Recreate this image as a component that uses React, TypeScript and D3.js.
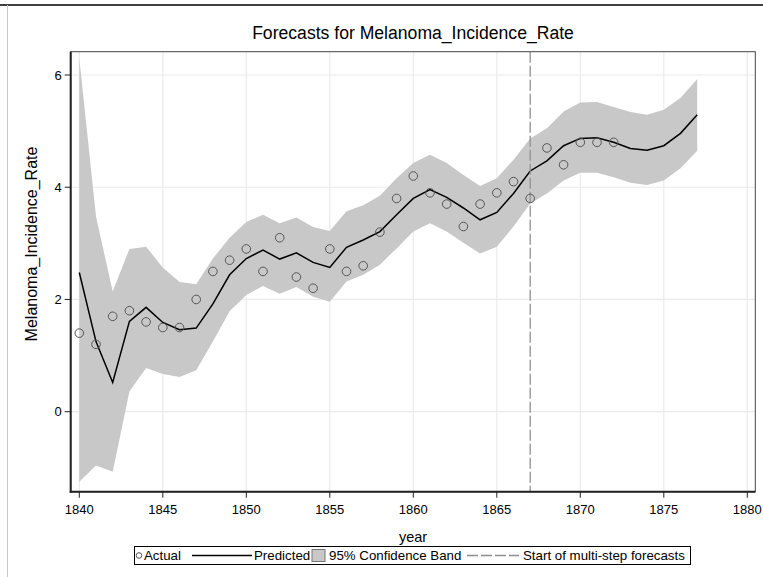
import React, { useEffect } from "react";
import * as d3 from "d3";

// Observed series and one-step / multi-step forecasts with 95% limits
const actualYears = d3.range(1840, 1873);
const actual = [
  1.4, 1.2, 1.7, 1.8, 1.6, 1.5, 1.5, 2.0, 2.5, 2.7, 2.9, 2.5, 3.1, 2.4, 2.2, 2.9, 2.5,
  2.6, 3.2, 3.8, 4.2, 3.9, 3.7, 3.3, 3.7, 3.9, 4.1, 3.8, 4.7, 4.4, 4.8, 4.8, 4.8,
];

const forecastYears = d3.range(1840, 1878);
const predicted = [
  2.48, 1.25, 0.52, 1.61, 1.86, 1.59, 1.46, 1.49, 1.92, 2.44, 2.73, 2.88, 2.72, 2.83,
  2.66, 2.57, 2.93, 3.06, 3.21, 3.51, 3.8, 3.96, 3.82, 3.63, 3.42, 3.55, 3.89, 4.29,
  4.47, 4.74, 4.87, 4.88, 4.8, 4.69, 4.66, 4.74, 4.96, 5.29,
];
const upper = [
  6.3, 3.48, 2.14, 2.9, 2.94, 2.57, 2.31, 2.27, 2.73, 3.1, 3.38, 3.51, 3.36, 3.46,
  3.29, 3.22, 3.57, 3.68, 3.85, 4.16, 4.43, 4.58, 4.43, 4.22, 4.02, 4.16, 4.49, 4.87,
  5.05, 5.35, 5.51, 5.52, 5.43, 5.34, 5.29, 5.38, 5.59, 5.93,
];
const lower = [
  -1.25, -0.96, -1.07, 0.36, 0.78, 0.67, 0.62, 0.74, 1.25, 1.79, 2.08, 2.24, 2.1,
  2.22, 2.05, 1.96, 2.32, 2.44, 2.62, 2.91, 3.21, 3.36, 3.21, 3.01, 2.82, 2.94, 3.3,
  3.71, 3.89, 4.12, 4.26, 4.26, 4.18, 4.08, 4.04, 4.12, 4.34, 4.65,
];

const forecastStart = 1867;
const xTicks = [1840, 1845, 1850, 1855, 1860, 1865, 1870, 1875, 1880];
const yTicks = [0, 2, 4, 6];

const W = 763;
const H = 577;
const FONT = "'Liberation Sans', Arial, sans-serif";

const plot = { left: 70.7, right: 755.3, top: 51.7, bottom: 491.7 };

export default function App() {
  useEffect(() => {
    document.body.style.margin = "0";
  }, []);

  const x = d3.scaleLinear().domain([1840, 1880]).range([79.3, 747.3]);
  const y = d3.scaleLinear().domain([0, 6]).range([411.7, 75.0]);

  const band = d3
    .area<number>()
    .x((_, i) => x(forecastYears[i]))
    .y0((_, i) => y(lower[i]))
    .y1((_, i) => y(upper[i]))(forecastYears);

  const predLine = d3
    .line<number>()
    .x((_, i) => x(forecastYears[i]))
    .y((v) => y(v))(predicted);

  const cx = (plot.left + plot.right) / 2;

  return (
    <svg width={W} height={H} style={{ display: "block" }} fontFamily={FONT}>
      <rect x={0} y={0} width={W} height={H} fill="#fff" />
      {/* outer frame */}
      <line x1={0} x2={W} y1={5} y2={5} stroke="#000" strokeWidth={1.5} />
      <line x1={7.5} x2={7.5} y1={5} y2={H} stroke="#c8c8c8" strokeWidth={1} />

      <text x={cx} y={39} textAnchor="middle" fontSize={17.6} fill="#000">
        Forecasts for Melanoma_Incidence_Rate
      </text>

      <defs>
        <clipPath id="plotClip">
          <rect
            x={plot.left}
            y={plot.top}
            width={plot.right - plot.left}
            height={plot.bottom - plot.top}
          />
        </clipPath>
      </defs>

      {/* grid */}
      {xTicks.map((t) => (
        <line
          key={"gx" + t}
          x1={x(t)}
          x2={x(t)}
          y1={plot.top}
          y2={plot.bottom}
          stroke="#ebebeb"
          strokeWidth={1.2}
        />
      ))}
      {yTicks.map((t) => (
        <line
          key={"gy" + t}
          x1={plot.left}
          x2={plot.right}
          y1={y(t)}
          y2={y(t)}
          stroke="#ebebeb"
          strokeWidth={1.2}
        />
      ))}

      <g clipPath="url(#plotClip)">
        <path d={band ?? ""} fill="#c8c8c8" stroke="none" />
        <path d={predLine ?? ""} fill="none" stroke="#000" strokeWidth={1.5} />
        <line
          x1={x(forecastStart)}
          x2={x(forecastStart)}
          y1={plot.top}
          y2={plot.bottom}
          stroke="#909090"
          strokeWidth={1.3}
          strokeDasharray="11,3"
        />
        {actual.map((v, i) => (
          <circle
            key={"a" + i}
            cx={x(actualYears[i])}
            cy={y(v)}
            r={4.3}
            fill="none"
            stroke="#555"
            strokeWidth={1}
          />
        ))}
      </g>

      {/* plot frame */}
      <rect
        x={plot.left}
        y={plot.top}
        width={plot.right - plot.left}
        height={plot.bottom - plot.top}
        fill="none"
        stroke="#444"
        strokeWidth={1}
      />
      <line x1={plot.left} x2={plot.left} y1={plot.top} y2={plot.bottom + 1} stroke="#222" strokeWidth={2} />
      <line x1={plot.left - 1} x2={plot.right} y1={plot.bottom} y2={plot.bottom} stroke="#222" strokeWidth={2} />

      {/* y axis */}
      {yTicks.map((t) => (
        <g key={"yt" + t}>
          <line x1={plot.left - 6} x2={plot.left} y1={y(t)} y2={y(t)} stroke="#222" strokeWidth={1} />
          <text x={plot.left - 9} y={y(t)} dy="0.35em" textAnchor="end" fontSize={13} fill="#000">
            {t}
          </text>
        </g>
      ))}
      <text
        transform={`translate(37,244) rotate(-90)`}
        textAnchor="middle"
        fontSize={16}
        fill="#000"
      >
        Melanoma_Incidence_Rate
      </text>

      {/* x axis */}
      {xTicks.map((t) => (
        <g key={"xt" + t}>
          <line x1={x(t)} x2={x(t)} y1={plot.bottom} y2={plot.bottom + 6} stroke="#222" strokeWidth={1} />
          <text x={x(t)} y={plot.bottom + 22} textAnchor="middle" fontSize={13} fill="#000">
            {t}
          </text>
        </g>
      ))}
      <text x={cx} y={542} textAnchor="middle" fontSize={14.5} fill="#000">
        year
      </text>

      {/* legend */}
      <g fontSize={13.3} fill="#000">
        <rect x={134.5} y={546.5} width={556} height={18} fill="#fff" stroke="#000" strokeWidth={1} />
        <circle cx={139} cy={555.5} r={2.8} fill="none" stroke="#555" strokeWidth={1} />
        <text x={144} y={560}>Actual</text>
        <line x1={192} x2={252} y1={555.5} y2={555.5} stroke="#000" strokeWidth={1.5} />
        <text x={254} y={560}>Predicted</text>
        <rect x={312} y={549.5} width={13} height={12} fill="#c8c8c8" stroke="#777" strokeWidth={1} />
        <text x={329} y={560}>95% Confidence Band</text>
        <line
          x1={467}
          x2={519}
          y1={555.5}
          y2={555.5}
          stroke="#909090"
          strokeWidth={1.3}
          strokeDasharray="11,3"
        />
        <text x={523} y={560}>Start of multi-step forecasts</text>
      </g>
    </svg>
  );
}
